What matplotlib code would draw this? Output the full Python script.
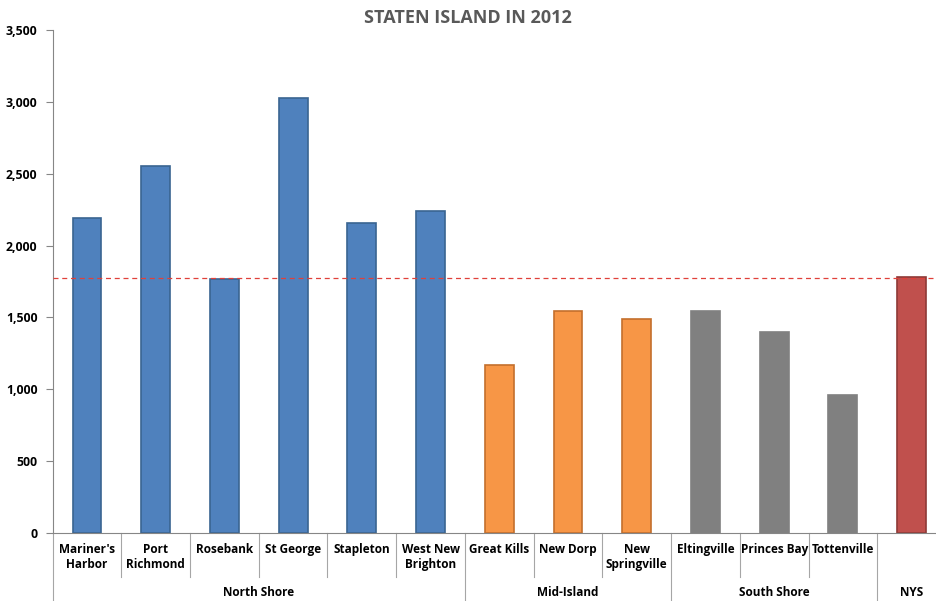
import matplotlib
matplotlib.use('Agg')
import matplotlib.pyplot as plt
from matplotlib.ticker import FuncFormatter

neighborhoods = ["Mariner's\nHarbor", "Port\nRichmond", "Rosebank", "St George", "Stapleton",
                 "West New\nBrighton", "Great Kills", "New Dorp", "New\nSpringville",
                 "Eltingville", "Princes Bay", "Tottenville", ""]
values = [2190, 2555, 1765, 3030, 2160, 2240, 1170, 1545, 1490, 1545, 1400, 960, 1780]
groups = ["North Shore", "Mid-Island", "South Shore", "NYS"]
group_sizes = [6, 3, 3, 1]
group_colors = ["#4F81BD", "#F79646", "#808080", "#C0504D"]
group_edges = ["#3A6591", "#C46F2C", "#808080", "#8E3A37"]
nys_line = 1775

plt.rcParams['font.family'] = ['Open Sans', 'DejaVu Sans']

fig = plt.figure(figsize=(9.36, 6.01), dpi=100)
ax = fig.add_axes([0.0562, 0.1131, 0.9545, 0.837])

# colours per bar from the group they belong to
colors, edges = [], []
for c, e, n in zip(group_colors, group_edges, group_sizes):
    colors += [c] * n
    edges += [e] * n

x = list(range(len(values)))
ax.bar(x, values, width=0.42, color=colors, edgecolor=edges, linewidth=1.2, zorder=2)
ax.axhline(nys_line, color="#E0403A", linestyle=(0, (4, 3)), linewidth=0.9, zorder=3)

ax.set_xlim(-0.5, len(values) - 0.5)
ax.set_ylim(0, 3500)
ax.set_yticks(range(0, 3501, 500))
ax.yaxis.set_major_formatter(FuncFormatter(lambda v, p: f"{int(v):,}"))
ax.set_xticks([])

for s in ['top', 'right']:
    ax.spines[s].set_visible(False)
for s in ['left', 'bottom']:
    ax.spines[s].set_color("#868686")
ax.tick_params(axis='y', direction='out', length=5, color="#868686", pad=6)
for lab in ax.get_yticklabels():
    lab.set_fontweight('bold')
    lab.set_fontsize(8.8)

# category labels and separators
trans = ax.get_xaxis_transform()
for i, name in enumerate(neighborhoods):
    ax.text(i, -0.02, name, transform=trans, ha='center', va='top',
            fontsize=8.5, fontweight='bold', linespacing=1.2)

start = 0
bounds = [-0.5]
for g, n in zip(groups, group_sizes):
    mid = start + (n - 1) / 2
    ax.text(mid, -0.119, g, transform=trans, ha='center', va='center',
            fontsize=8.5, fontweight='bold')
    for k in range(start, start + n - 1):
        ax.plot([k + 0.5, k + 0.5], [0, -0.088], transform=trans, color="#A6A6A6",
                linewidth=0.8, clip_on=False)
    start += n
    bounds.append(start - 0.5)
for b in bounds:
    ax.plot([b, b], [0, -0.14], transform=trans, color="#A6A6A6",
            linewidth=0.8, clip_on=False)

fig.text(0.5, 0.97, "STATEN ISLAND IN 2012", ha='center', va='center',
         fontsize=13, fontweight='bold', color="#595959")

fig.savefig("out.png", dpi=100)
